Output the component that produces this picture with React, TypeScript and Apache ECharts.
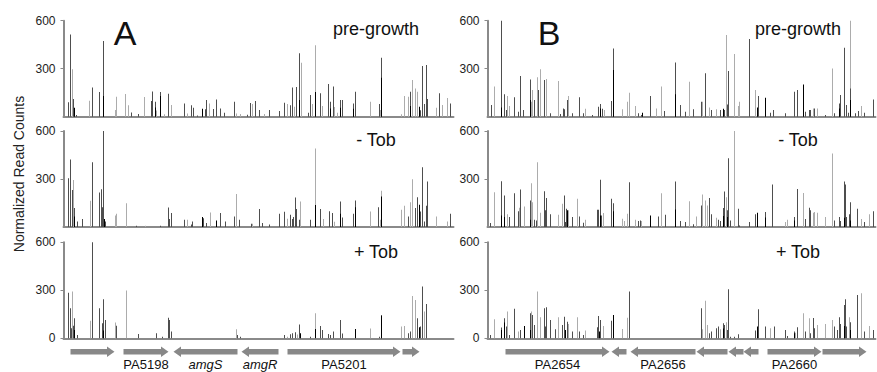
import { useEffect, useRef } from 'react';
import * as echarts from 'echarts';

type Pt = [number, number];

// ---------- Panel A (PA5198 - PA5201 region) ----------
const aPreDark: Pt[] = [[5,90],[7,514],[10,110],[13,10],[29,183],[36,154],[40,473],[68,27],[75,17],[88,98],[89,158],[92,94],[97,154],[105,144],[121,83],[128,71],[130,56],[134,8],[142,46],[143,104],[150,48],[153,108],[157,52],[161,25],[171,94],[184,12],[187,85],[192,98],[196,42],[206,42],[216,35],[221,87],[227,71],[229,183],[233,185],[236,396],[245,25],[247,135],[257,146],[265,204],[267,94],[270,188],[277,104],[279,104],[290,83],[292,156],[316,79],[318,369],[347,156],[357,40],[359,317],[361,79],[363,323],[364,110],[376,146],[387,83]];
const aPreLight: Pt[] = [[9,296],[26,100],[52,42],[53,125],[62,142],[65,71],[81,123],[93,38],[101,15],[108,73],[124,20],[146,83],[173,20],[177,17],[189,79],[201,17],[224,79],[231,62],[238,337],[249,79],[252,446],[259,67],[271,60],[274,25],[307,94],[317,42],[338,15],[341,129],[345,125],[349,229],[352,177],[354,156],[373,56],[379,73],[384,117]];
const aPreBlack: Pt[] = [[11,56],[40,129],[92,58],[97,130],[139,50],[236,104],[252,154],[267,52],[277,56],[290,50],[318,244],[347,67],[356,62]];

const aMinusDark: Pt[] = [[5,304],[7,422],[9,232],[11,118],[14,35],[19,50],[29,404],[36,215],[38,236],[39,124],[40,600],[42,35],[73,8],[97,8],[105,122],[106,50],[108,87],[121,46],[128,15],[129,35],[140,55],[143,25],[157,87],[162,35],[171,66],[176,46],[188,20],[196,112],[199,25],[206,15],[216,83],[221,95],[227,77],[229,50],[230,62],[232,184],[233,112],[236,46],[247,46],[257,112],[266,99],[269,87],[277,160],[279,60],[290,83],[292,166],[315,124],[345,66],[352,118],[354,186],[357,97],[359,373],[361,35],[363,133],[364,284],[387,83]];
const aMinusLight: Pt[] = [[10,294],[27,164],[52,72],[53,83],[63,149],[82,8],[124,46],[147,91],[173,207],[189,20],[224,52],[237,160],[252,491],[260,50],[271,33],[307,97],[317,46],[318,226],[338,108],[341,133],[347,155],[349,298],[373,66],[384,35]];
const aMinusBlack: Pt[] = [[11,66],[41,50],[139,62],[153,40],[252,137],[277,83],[292,124],[318,190],[356,139]];

const aPlusDark: Pt[] = [[5,285],[7,188],[8,63],[10,79],[11,125],[14,21],[29,600],[36,188],[39,94],[40,244],[42,115],[53,79],[75,27],[93,31],[99,10],[105,129],[106,115],[108,42],[174,21],[177,10],[221,21],[227,25],[229,31],[232,38],[236,87],[247,10],[257,77],[259,52],[265,27],[267,20],[270,42],[277,115],[279,30],[316,10],[318,146],[345,31],[347,42],[354,125],[357,73],[359,323],[363,215]];
const aPlusLight: Pt[] = [[9,292],[27,110],[52,98],[63,298],[173,56],[224,10],[234,23],[252,156],[307,62],[338,73],[341,77],[349,265],[352,240],[361,167]];
const aPlusBlack: Pt[] = [[11,52],[40,48],[237,31],[252,58],[292,58],[318,140],[356,69]];

// ---------- Panel B (PA2654 - PA2660 region) ----------
const bPreDark: Pt[] = [[4,73],[14,600],[17,140],[19,42],[27,121],[31,31],[33,254],[36,42],[43,233],[47,104],[51,167],[57,229],[63,21],[73,17],[76,52],[77,46],[80,104],[85,21],[92,121],[96,21],[105,10],[111,62],[113,79],[115,50],[124,98],[126,427],[151,21],[154,10],[163,129],[177,35],[188,338],[193,73],[198,31],[206,46],[214,94],[218,271],[224,42],[233,42],[237,42],[240,77],[241,285],[262,485],[271,129],[283,25],[286,42],[298,21],[307,156],[310,167],[318,31],[322,42],[323,42],[327,52],[338,10],[347,21],[352,83],[353,135],[357,431],[359,73],[361,25],[363,177],[368,21],[371,35],[377,25],[386,108]];
const bPreLight: Pt[] = [[7,188],[20,129],[22,67],[44,94],[45,167],[50,246],[53,296],[59,235],[71,223],[81,129],[98,50],[117,42],[135,46],[140,94],[142,150],[148,67],[169,52],[174,188],[202,219],[215,94],[222,58],[229,46],[239,510],[247,392],[251,67],[252,94],[268,167],[326,52],[330,52],[345,302],[363,600],[374,67]];
const bPreBlack: Pt[] = [[14,58],[43,104],[113,52],[126,292],[155,25],[188,140],[236,50],[270,58],[278,119],[316,202],[352,52],[363,104]];

const bMinusDark: Pt[] = [[3,25],[14,286],[17,197],[22,62],[27,211],[31,99],[33,234],[43,166],[47,46],[49,41],[57,224],[58,104],[59,182],[63,79],[77,197],[78,31],[79,114],[85,62],[92,66],[96,27],[110,108],[111,108],[113,296],[114,72],[124,176],[126,149],[142,279],[151,37],[153,41],[171,66],[178,77],[188,284],[193,37],[198,31],[206,17],[214,135],[222,182],[224,79],[231,46],[233,37],[236,118],[237,222],[240,104],[241,430],[243,41],[251,114],[252,10],[262,31],[268,79],[278,93],[285,265],[307,62],[310,238],[318,50],[322,120],[323,104],[347,41],[352,62],[353,37],[357,284],[358,265],[359,62],[362,79],[363,155],[370,114],[377,31],[386,99]];
const bMinusLight: Pt[] = [[7,217],[20,79],[32,120],[37,128],[44,273],[45,155],[50,404],[53,89],[71,77],[75,145],[81,104],[90,176],[98,46],[116,87],[135,52],[137,37],[140,83],[148,46],[154,37],[174,211],[202,161],[209,66],[215,203],[218,166],[220,135],[229,58],[239,186],[247,600],[298,31],[300,46],[316,213],[326,89],[327,93],[330,89],[338,62],[345,460],[374,50],[382,79]];
const bMinusBlack: Pt[] = [[14,72],[17,62],[43,46],[80,104],[113,72],[126,99],[163,72],[188,110],[236,68],[240,62],[270,89],[278,60],[307,41],[357,58],[363,41]];

const bPlusDark: Pt[] = [[3,21],[14,67],[17,125],[19,73],[22,21],[27,185],[33,52],[43,156],[45,146],[47,83],[57,188],[58,73],[59,194],[63,115],[68,56],[75,83],[77,135],[80,104],[85,42],[92,42],[96,21],[110,69],[111,140],[113,115],[124,110],[142,292],[214,188],[222,31],[224,42],[229,63],[231,73],[236,94],[237,83],[240,52],[241,306],[243,10],[247,10],[251,25],[268,48],[271,181],[278,73],[287,73],[298,52],[300,15],[307,42],[310,69],[318,42],[323,31],[326,127],[327,63],[347,73],[350,52],[352,131],[353,90],[357,208],[358,244],[359,73],[363,100],[370,271],[377,42],[386,52]];
const bPlusLight: Pt[] = [[7,119],[20,167],[31,42],[44,167],[50,292],[53,131],[71,131],[81,90],[90,131],[98,48],[116,77],[135,58],[140,129],[215,56],[218,235],[220,83],[233,56],[239,100],[283,63],[308,35],[316,156],[322,125],[330,83],[338,90],[345,115],[362,131],[374,281],[382,77]];
const bPlusBlack: Pt[] = [[14,52],[17,98],[37,77],[43,52],[78,52],[112,42],[126,146],[236,62],[270,73],[307,31],[357,77],[363,52]];

// ---------- Genes ----------
type Gene = { name: string; start: number; end: number; strand: 1 | -1 };
const genesA: Gene[] = [
  { name: '', start: 7, end: 51, strand: 1 },
  { name: 'PA5198', start: 60, end: 105, strand: 1 },
  { name: 'amgS', start: 110, end: 174, strand: -1 },
  { name: 'amgR', start: 178, end: 215, strand: -1 },
  { name: 'PA5201', start: 224, end: 337, strand: 1 },
  { name: '', start: 339, end: 356, strand: 1 },
];
const genesB: Gene[] = [
  { name: 'PA2654', start: 18, end: 122, strand: 1 },
  { name: '', start: 124, end: 139, strand: -1 },
  { name: 'PA2656', start: 143, end: 208, strand: -1 },
  { name: '', start: 209, end: 240, strand: -1 },
  { name: '', start: 241, end: 256, strand: -1 },
  { name: '', start: 256, end: 271, strand: -1 },
  { name: 'PA2660', start: 280, end: 334, strand: 1 },
  { name: '', start: 335, end: 379, strand: 1 },
];

const conditions = ['pre-growth', '- Tob', '+ Tob'];
const panelLetters = ['A', 'B'];
const yTicks = [0, 300, 600];
const yTitle = 'Normalized Read Counts';

const FONT = '"Liberation Sans", Arial, Helvetica, sans-serif';
const DARK = '#4e4e4e';
const LIGHT = '#acacac';
const BLACK = '#000000';
const AXIS = '#8a8a8a';
const ARROW = '#888888';

const sides = [
  {
    left: 63.5, width: 390, span: 390, letterX: 125, condX: 376, genes: genesA,
    panels: [[aPreLight, aPreDark, aPreBlack], [aMinusLight, aMinusDark, aMinusBlack], [aPlusLight, aPlusDark, aPlusBlack]],
  },
  {
    left: 487.5, width: 388, span: 388, letterX: 549, condX: 798, genes: genesB,
    panels: [[bPreLight, bPreDark, bPreBlack], [bMinusLight, bMinusDark, bMinusBlack], [bPlusLight, bPlusDark, bPlusBlack]],
  },
];
const rowTops = [20.7, 131, 242.3];
const rowH = 96;
const condY = [28.8, 140.3, 251.7];

function buildOption() {
  const grid: any[] = [];
  const xAxis: any[] = [];
  const yAxis: any[] = [];
  const series: any[] = [];
  const graphic: any[] = [];
  const colors = [LIGHT, DARK, BLACK];

  sides.forEach((side, si) => {
    side.panels.forEach((panel, r) => {
      const gi = grid.length;
      grid.push({ left: side.left, top: rowTops[r], width: side.width, height: rowH, containLabel: false });
      xAxis.push({
        gridIndex: gi, type: 'value', min: 0, max: side.span,
        axisLine: { show: true, onZero: false, lineStyle: { color: AXIS, width: 2 } },
        axisTick: { show: false }, axisLabel: { show: false }, splitLine: { show: false },
      });
      yAxis.push({
        gridIndex: gi, type: 'value', min: yTicks[0], max: yTicks[yTicks.length - 1], interval: yTicks[1] - yTicks[0],
        axisLine: { show: true, lineStyle: { color: AXIS, width: 2 } },
        axisTick: { show: true, length: 3, lineStyle: { color: AXIS, width: 1 } },
        axisLabel: { show: true, showMinLabel: r === 2, color: '#222', fontSize: 12, fontFamily: FONT, margin: 8 },
        splitLine: { show: false },
      });
      panel.forEach((data, ci) => {
        series.push({
          type: 'bar', xAxisIndex: gi, yAxisIndex: gi, data, barWidth: 1, barGap: '-100%',
          itemStyle: { color: colors[ci] }, silent: true,
        });
      });
      graphic.push({
        type: 'text', x: side.condX, y: condY[r], silent: true,
        style: { text: conditions[r], textAlign: 'center', textVerticalAlign: 'middle', fontSize: 18, fontFamily: FONT, fill: '#111' },
      });
    });
    // gene arrows
    const ai = grid.length;
    grid.push({ left: side.left, top: 344.7, width: side.width, height: 14 });
    xAxis.push({ gridIndex: ai, type: 'value', min: 0, max: side.span, show: false });
    yAxis.push({ gridIndex: ai, type: 'value', min: 0, max: 1, show: false });
    const genes = side.genes;
    series.push({
      type: 'custom', xAxisIndex: ai, yAxisIndex: ai, silent: true, clip: false,
      data: genes.map((g) => [g.start, g.end, g.strand]),
      renderItem: (params: any, api: any) => {
        const p0 = api.coord([api.value(0), 0.5]);
        const p1 = api.coord([api.value(1), 0.5]);
        const a = p0[0], b = p1[0], y = p0[1];
        const bh = 2.8, hh = 5.3, hl = 7.5;
        const pts = api.value(2) > 0
          ? [[a, y - bh], [b - hl, y - bh], [b - hl, y - hh], [b, y], [b - hl, y + hh], [b - hl, y + bh], [a, y + bh]]
          : [[b, y - bh], [a + hl, y - bh], [a + hl, y - hh], [a, y], [a + hl, y + hh], [a + hl, y + bh], [b, y + bh]];
        const g = genes[params.dataIndex];
        const children: any[] = [{ type: 'polygon', shape: { points: pts }, style: { fill: ARROW } }];
        if (g.name) {
          const italic = !g.name.startsWith('PA');
          children.push({
            type: 'text',
            style: {
              text: g.name, x: (a + b) / 2, y: y + 13, align: 'center', verticalAlign: 'middle',
              textAlign: 'center', textVerticalAlign: 'middle',
              fontSize: 13, fontFamily: FONT, fontStyle: italic ? 'italic' : 'normal', fill: '#111',
            },
          });
        }
        return { type: 'group', children };
      },
    });
    graphic.push({
      type: 'text', x: side.letterX, y: 32.5, silent: true,
      style: { text: panelLetters[si], textAlign: 'center', textVerticalAlign: 'middle', fontSize: 34, fontFamily: FONT, fill: '#111' },
    });
  });

  graphic.push({
    type: 'text', x: 19, y: 174, rotation: Math.PI / 2, silent: true,
    style: { text: yTitle, textAlign: 'center', textVerticalAlign: 'middle', fontSize: 14, fontFamily: FONT, fill: '#222' },
  });

  return { animation: false, backgroundColor: '#ffffff', grid, xAxis, yAxis, series, graphic };
}

export default function App() {
  const ref = useRef<HTMLDivElement>(null);
  useEffect(() => {
    if (!ref.current) return;
    const chart = echarts.init(ref.current, undefined, { renderer: 'svg' });
    chart.setOption(buildOption() as any);
    return () => chart.dispose();
  }, []);
  return <div ref={ref} style={{ position: 'fixed', left: 0, top: 0, width: 877, height: 372 }} />;
}
